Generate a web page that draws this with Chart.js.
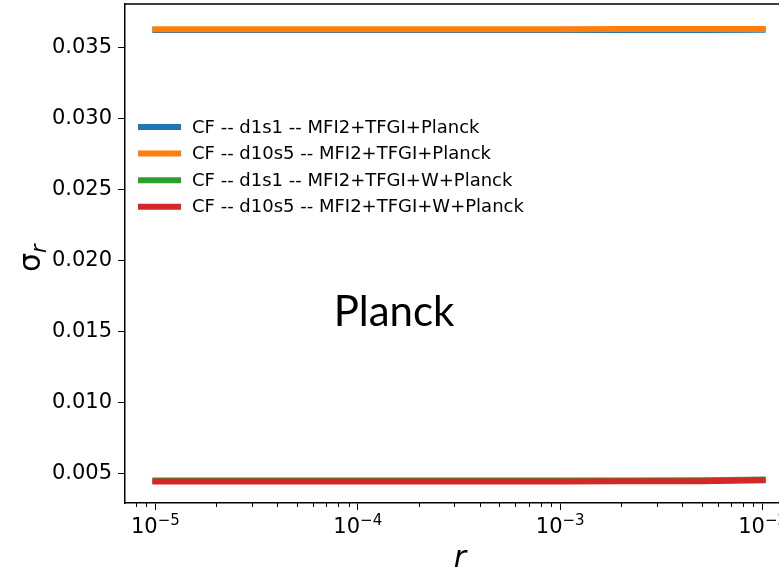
<!DOCTYPE html>
<html>
<head>
<meta charset="utf-8">
<script src="https://cdn.jsdelivr.net/npm/chart.js@4.4.1/dist/chart.umd.min.js"></script>
<style>
html, body { margin: 0; padding: 0; background: #fff; overflow: hidden; }
canvas { display: block; }
</style>
</head>
<body>
<canvas id="chart" width="800" height="572"></canvas>
<script>
// Data
const rValues = [1e-5, 2e-5, 5e-5, 1e-4, 2e-4, 5e-4, 1e-3, 2e-3, 5e-3, 1e-2];
const seriesLabels = [
    'CF -- d1s1 -- MFI2+TFGI+Planck',
    'CF -- d10s5 -- MFI2+TFGI+Planck',
    'CF -- d1s1 -- MFI2+TFGI+W+Planck',
    'CF -- d10s5 -- MFI2+TFGI+W+Planck'
];
const sigmaD1s1 = [0.03627, 0.03627, 0.03627, 0.03627, 0.03627, 0.03627, 0.03627, 0.03627, 0.03627, 0.03628];
const sigmaD10s5 = [0.03632, 0.03632, 0.03632, 0.03632, 0.03632, 0.03632, 0.03632, 0.03633, 0.03633, 0.03634];
const sigmaD1s1W = [0.00448, 0.00448, 0.00448, 0.00448, 0.00448, 0.00448, 0.00448, 0.00449, 0.00450, 0.00456];
const sigmaD10s5W = [0.00442, 0.00442, 0.00442, 0.00442, 0.00442, 0.00442, 0.00442, 0.00443, 0.00444, 0.00451];
const seriesColors = ['#1f77b4', '#ff7f0e', '#2ca02c', '#d62728'];

const yTicks = [0.005, 0.010, 0.015, 0.020, 0.025, 0.030, 0.035];
const xMajorTicks = [1e-5, 1e-4, 1e-3, 1e-2];
const xTickExponents = ['\u22125', '\u22124', '\u22123', '\u22122'];
const xMinorTicks = [8e-6, 9e-6,
    2e-5, 3e-5, 4e-5, 5e-5, 6e-5, 7e-5, 8e-5, 9e-5,
    2e-4, 3e-4, 4e-4, 5e-4, 6e-4, 7e-4, 8e-4, 9e-4,
    2e-3, 3e-3, 4e-3, 5e-3, 6e-3, 7e-3, 8e-3, 9e-3];

const allSeries = [sigmaD1s1, sigmaD10s5, sigmaD1s1W, sigmaD10s5W];

// Extra drawing: frame, minor ticks, tick labels, legend, titles
const extras = {
    id: 'extras',
    afterDraw(chart) {
        const ctx = chart.ctx;
        const area = chart.chartArea;
        const xScale = chart.scales.x;
        ctx.save();

        // frame on top / right
        ctx.strokeStyle = '#000';
        ctx.lineWidth = 1.5;
        ctx.beginPath();
        ctx.moveTo(area.left, area.top);
        ctx.lineTo(area.right, area.top);
        ctx.lineTo(area.right, area.bottom);
        ctx.stroke();

        // minor ticks
        ctx.lineWidth = 1;
        xMinorTicks.forEach(v => {
            const px = Math.round(xScale.getPixelForValue(v)) + 0.5;
            ctx.beginPath();
            ctx.moveTo(px, area.bottom);
            ctx.lineTo(px, area.bottom + 4);
            ctx.stroke();
        });

        // x tick labels 10^n
        ctx.fillStyle = '#000';
        ctx.textBaseline = 'alphabetic';
        xMajorTicks.forEach((v, i) => {
            const px = xScale.getPixelForValue(v);
            ctx.font = '21px "DejaVu Sans"';
            const baseW = ctx.measureText('10').width;
            ctx.font = '15px "DejaVu Sans"';
            const expW = ctx.measureText(xTickExponents[i]).width;
            const x0 = px - (baseW + expW) / 2;
            ctx.textAlign = 'left';
            ctx.font = '21px "DejaVu Sans"';
            ctx.fillText('10', x0, 533);
            ctx.font = '15px "DejaVu Sans"';
            ctx.fillText(xTickExponents[i], x0 + baseW, 525);
        });

        // legend
        ctx.font = '18px "DejaVu Sans"';
        ctx.textBaseline = 'middle';
        ctx.textAlign = 'left';
        chart.data.datasets.forEach((ds, i) => {
            const y = 127 + i * 26.6;
            ctx.strokeStyle = ds.borderColor;
            ctx.lineWidth = 6;
            ctx.lineCap = 'butt';
            ctx.beginPath();
            ctx.moveTo(138, y);
            ctx.lineTo(181, y);
            ctx.stroke();
            ctx.fillStyle = '#000';
            ctx.fillText(ds.label, 192, y + 1);
        });

        // Planck annotation
        ctx.font = '42px Lato';
        ctx.textAlign = 'center';
        ctx.textBaseline = 'alphabetic';
        ctx.fillText('Planck', 394, 326);

        // x title
        ctx.font = 'italic 30px "DejaVu Sans"';
        ctx.fillText('r', 460, 567);

        // y title
        ctx.translate(40, 272);
        ctx.rotate(-Math.PI / 2);
        ctx.textAlign = 'left';
        ctx.font = '30px "DejaVu Sans"';
        ctx.fillText('\u03c3', 0, 0);
        const w = ctx.measureText('\u03c3').width;
        ctx.font = 'italic 21px "DejaVu Sans"';
        ctx.fillText('r', w, 6);

        ctx.restore();
    }
};

function noPadding(scale) {
    scale.paddingTop = 0;
    scale.paddingBottom = 0;
    scale.paddingLeft = 0;
    scale.paddingRight = 0;
}

new Chart(document.getElementById('chart'), {
    type: 'line',
    data: {
        datasets: allSeries.map((vals, i) => ({
            label: seriesLabels[i],
            data: rValues.map((r, j) => ({ x: r, y: vals[j] })),
            borderColor: seriesColors[i],
            backgroundColor: seriesColors[i],
            borderWidth: 6,
            borderCapStyle: 'square',
            pointRadius: 0,
            tension: 0,
            fill: false,
            order: allSeries.length - i
        }))
    },
    options: {
        responsive: false,
        animation: false,
        devicePixelRatio: 1,
        layout: { padding: { top: 4, right: 7, left: 0, bottom: 0 } },
        plugins: {
            legend: { display: false },
            tooltip: { enabled: false }
        },
        scales: {
            x: {
                type: 'logarithmic',
                min: Math.pow(10, -5.15),
                max: Math.pow(10, -1.85),
                afterBuildTicks: scale => {
                    scale.ticks = xMajorTicks.map(v => ({ value: v, major: true }));
                },
                afterFit: scale => { scale.height = 69; noPadding(scale); },
                ticks: {
                    autoSkip: false,
                    maxRotation: 0,
                    display: true,
                    color: 'rgba(0,0,0,0)',
                    font: { family: 'DejaVu Sans', size: 21 },
                    callback: () => ''
                },
                grid: {
                    drawOnChartArea: false,
                    drawTicks: true,
                    tickLength: 7,
                    tickColor: '#000',
                    tickWidth: 1
                },
                border: { display: true, color: '#000', width: 1.5 }
            },
            y: {
                type: 'linear',
                min: 0.0029,
                max: 0.0381,
                afterBuildTicks: scale => {
                    scale.ticks = yTicks.map(v => ({ value: v }));
                },
                afterFit: scale => { scale.width = 125; noPadding(scale); },
                ticks: {
                    padding: 6,
                    color: '#000',
                    font: { family: 'DejaVu Sans', size: 21 },
                    callback: value => value.toFixed(3)
                },
                grid: {
                    drawOnChartArea: false,
                    drawTicks: true,
                    tickLength: 7,
                    tickColor: '#000',
                    tickWidth: 1
                },
                border: { display: true, color: '#000', width: 1.5 }
            }
        }
    },
    plugins: [extras]
});
</script>
</body>
</html>
